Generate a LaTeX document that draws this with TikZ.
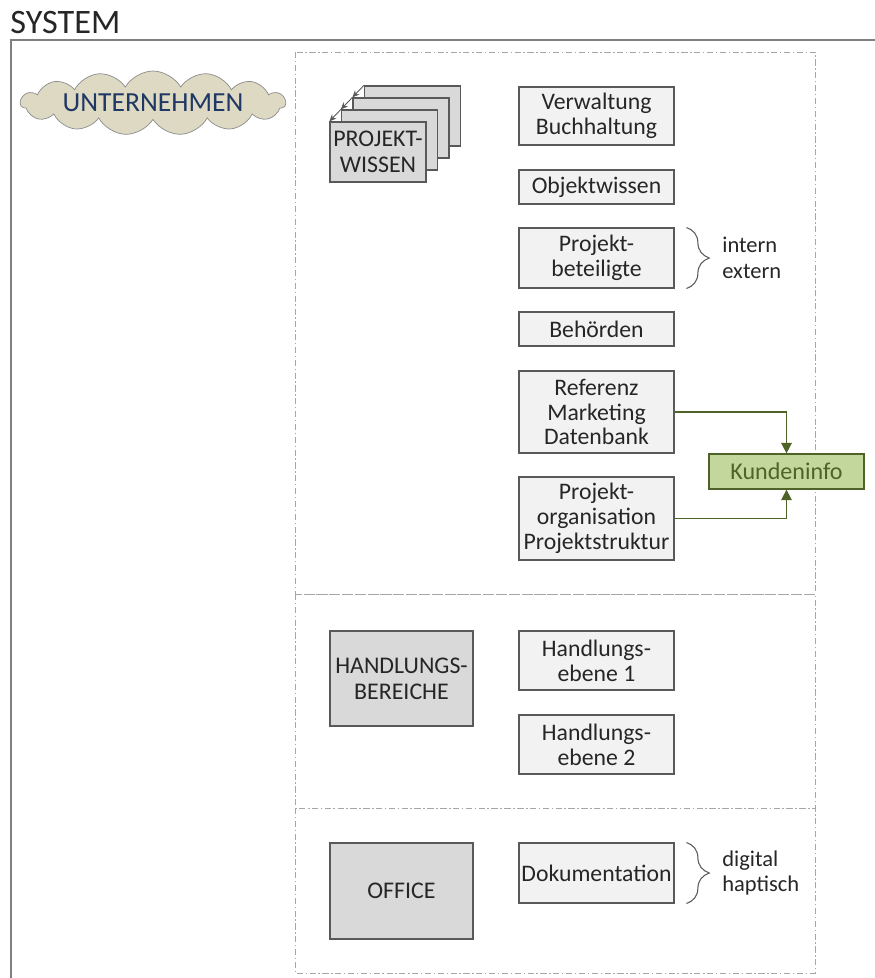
\documentclass[tikz,border=0pt]{standalone}
\usepackage{fontspec}
\setmainfont{Carlito}
\usetikzlibrary{arrows.meta,shapes.symbols,decorations.pathreplacing}
\definecolor{boxline}{HTML}{595959}
\definecolor{boxfill}{HTML}{F2F2F2}
\definecolor{areafill}{HTML}{D9D9D9}
\definecolor{cloudfill}{HTML}{DDD9C3}
\definecolor{cloudline}{HTML}{8C8C8C}
\definecolor{cloudtext}{HTML}{1F3864}
\definecolor{leaf}{HTML}{4F6228}
\definecolor{leaffill}{HTML}{C3D69B}
\definecolor{frameline}{HTML}{808080}
\definecolor{panelline}{HTML}{A6A6A6}
\definecolor{ink}{HTML}{262626}
\newcommand{\boxfont}{\fontsize{13.5}{14.2}\selectfont}
\tikzset{
  infobox/.style={
    rectangle, draw=boxline, line width=0.6pt, fill=boxfill,
    text=ink, align=center, minimum width=3.1cm, inner sep=0pt,
    font=\boxfont
  },
  areabox/.style={
    rectangle, draw=boxline, line width=0.7pt, fill=areafill,
    text=ink, align=center, minimum width=2.86cm, inner sep=0pt,
    font=\fontsize{13.6}{15}\selectfont
  },
  stackbox/.style={
    rectangle, draw=boxline, line width=0.7pt, fill=areafill,
    text=ink, align=center, minimum width=1.92cm, minimum height=1.2cm,
    inner sep=0pt, font=\fontsize{13.6}{15}\selectfont
  },
  kundenbox/.style={
    rectangle, draw=leaf, line width=0.7pt, fill=leaffill,
    text=leaf, minimum width=3.1cm, minimum height=0.7cm,
    inner sep=0pt, font=\fontsize{13.7}{15}\selectfont
  },
  panelbox/.style={
    draw=panelline, line width=0.5pt,
    dash pattern=on 3.5pt off 1.5pt on 0.8pt off 1.5pt
  },
  kundenarrow/.style={-{Triangle[length=6pt,width=6pt]}, line width=0.8pt, color=leaf},
  stackarrow/.style={-{Stealth[length=4pt,width=3.5pt]}, line width=0.5pt, color=boxline},
  bracket/.style={decorate, decoration={brace, amplitude=13pt}, draw=boxline, line width=0.6pt},
  sidetext/.style={anchor=west, align=left, text=ink, inner sep=0pt, font=\fontsize{12.8}{14.5}\selectfont},
}

\begin{document}
\begin{tikzpicture}[x=0.02cm, y=-0.02cm]
  \clip (0,0) rectangle (875,978);
  % outer frame and panels
  \draw[frameline, line width=1.2pt] (11,1100) |- (950,40);
  \node[anchor=base west, inner sep=0pt, text=ink, font=\fontsize{19.5}{22}\selectfont] (system) at (10,33) {SYSTEM};
  \draw[panelbox] (295,52) rectangle (815,594);
  \draw[panelbox] (295,594) rectangle (815,808);
  \draw[panelbox] (295,808) rectangle (815,973);

  \node[cloud, cloud puffs=15, cloud puff arc=120, aspect=7.5, draw=cloudline, fill=cloudfill,
    text=cloudtext, minimum width=5.3cm, inner sep=0pt,
    font=\fontsize{15.7}{17}\selectfont] (unternehmen) at (153,103) {UNTERNEHMEN};

  % stack of project knowledge
  \foreach \i in {3,2,1}
    \node[stackbox] (stack\i) at (378+11.5*\i,152-12*\i) {};
  \node[stackbox] (stack0) at (378,152) {PROJEKT-\\WISSEN};
  \foreach \a/\b in {3/2,2/1,1/0}
    \draw[stackarrow] (stack\a.north west) -- (stack\b.north west);

  % right column
  \foreach \name/\y/\h/\txt in {
      verwaltung/116/1.16/{Verwaltung\\Buchhaltung},
      objekt/187/0.68/{Objektwissen},
      beteiligte/258/1.2/{Projekt-\\beteiligte},
      behoerden/329/0.68/{Behörden},
      referenz/412/1.64/{Referenz\\Marketing\\Datenbank},
      projorg/518.5/1.66/{Projekt-\\organisation\\Projektstruktur},
      ebene1/660.5/1.18/{Handlungs-\\ebene 1},
      ebene2/744.5/1.18/{Handlungs-\\ebene 2},
      doku/873/1.2/{Dokumentation}}
    \node[infobox, minimum height=\h cm] (\name) at (596.5,\y) {\txt};

  \node[areabox, minimum height=1.9cm] (handlung) at (401.5,678.5) {HANDLUNGS-\\BEREICHE};
  \node[areabox, minimum height=1.92cm] (office) at (401.5,891) {OFFICE};

  \node[kundenbox] (kunden) at (786.5,471.5) {Kundeninfo};
  \draw[kundenarrow] (referenz.east) -| (kunden.north);
  \draw[kundenarrow] (projorg.east) -| (kunden.south);

  % braces
  \draw[bracket] ([xshift=6.8pt]beteiligte.north east) -- ([xshift=6.8pt]beteiligte.south east);
  \node[sidetext] (intern) at (722,258) {intern\\extern};
  \draw[bracket] ([xshift=6.8pt]doku.north east) -- ([xshift=6.8pt]doku.south east);
  \node[sidetext] (digital) at (722,873) {digital\\haptisch};
\end{tikzpicture}
\end{document}
